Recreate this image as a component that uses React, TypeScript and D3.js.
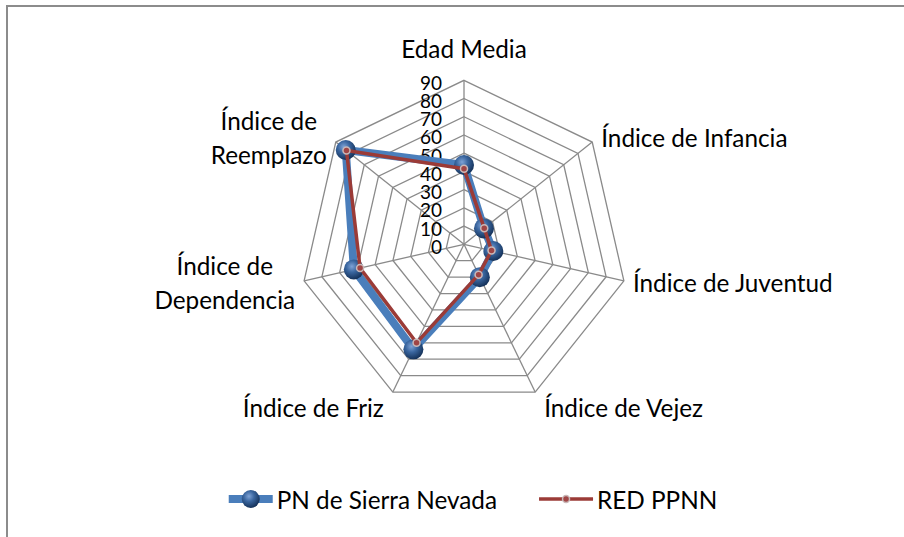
import React, { useEffect, useRef } from 'react';
import * as d3 from 'd3';

// categories clockwise from the top, "\n" splits a label over two lines
const categories = [
  'Edad Media',
  'Índice de Infancia',
  'Índice de Juventud',
  'Índice de Vejez',
  'Índice de Friz',
  'Índice de\nDependencia',
  'Índice de\nReemplazo',
];
const ticks = [0, 10, 20, 30, 40, 50, 60, 70, 80, 90];
const seriesNames = ['PN de Sierra Nevada', 'RED PPNN'];
const sierraNevada = [43.5, 14, 16.5, 20, 64, 62, 83];
const redPPNN = [41.5, 14.2, 15.5, 18.5, 60, 58.5, 82.5];

const W = 904;
const H = 537;
const FONT = 'Lato, Carlito, Calibri, sans-serif';

export default function App() {
  const ref = useRef<SVGSVGElement>(null);

  useEffect(() => {
    const svg = d3.select(ref.current);
    svg.selectAll('*').remove();

    const cx = 464;
    const cy = 244.3;
    const n = categories.length;
    const r = d3.scaleLinear().domain([0, 90]).range([0, 164]);
    const angle = (i: number) => (i * 2 * Math.PI) / n;
    const px = (i: number, v: number) => r(v) * Math.sin(angle(i));
    const py = (i: number, v: number) => -r(v) * Math.cos(angle(i));

    const defs = svg.append('defs');
    const grad = defs
      .append('radialGradient')
      .attr('id', 'ball')
      .attr('cx', '40%')
      .attr('cy', '35%')
      .attr('r', '65%');
    grad.append('stop').attr('offset', '0%').attr('stop-color', '#7fa3d6');
    grad.append('stop').attr('offset', '45%').attr('stop-color', '#3a669f');
    grad.append('stop').attr('offset', '100%').attr('stop-color', '#15325a');

    // chart border
    svg.append('rect')
      .attr('x', 7)
      .attr('y', 6)
      .attr('width', W + 20)
      .attr('height', H + 20)
      .attr('fill', 'white')
      .attr('stroke', '#8c8c8c')
      .attr('stroke-width', 2);

    const g = svg.append('g').attr('transform', `translate(${cx},${cy})`);

    // grid rings
    const ring = d3
      .lineRadial<number>()
      .angle((_, i) => angle(i))
      .curve(d3.curveLinearClosed);
    ticks.slice(1).forEach((t) => {
      g.append('path')
        .attr('d', ring.radius(() => r(t))(categories.map(() => t)))
        .attr('fill', 'none')
        .attr('stroke', '#8a8a8a')
        .attr('stroke-width', 1.3);
    });
    categories.forEach((_, i) => {
      g.append('line')
        .attr('x1', 0)
        .attr('y1', 0)
        .attr('x2', px(i, 90))
        .attr('y2', py(i, 90))
        .attr('stroke', '#8a8a8a')
        .attr('stroke-width', 1.3);
    });

    // tick labels along the top axis
    g.selectAll('.tick')
      .data(ticks)
      .enter()
      .append('text')
      .attr('x', -22)
      .attr('y', (d) => -r(d) + 2)
      .attr('text-anchor', 'end')
      .attr('dominant-baseline', 'central')
      .attr('font-family', FONT)
      .attr('font-size', 19)
      .attr('fill', '#000')
      .text((d) => d);

    // category labels
    categories.forEach((c, i) => {
      const a = angle(i);
      const s = Math.sin(a);
      const co = Math.cos(a);
      const vx = px(i, 90);
      const vy = py(i, 90);
      const lines = c.split('\n');
      const t = g.append('text')
        .attr('font-family', FONT)
        .attr('font-size', 24.3)
        .attr('fill', '#000')
        .attr('text-anchor', 'middle');
      lines.forEach((l, k) => {
        t.append('tspan').attr('x', 0).attr('y', k * 33.4).text(l);
      });
      const bb = (t.node() as SVGTextElement).getBBox();
      let ox: number;
      let oy: number;
      if (Math.abs(s) < 0.1) ox = vx;
      else if (s > 0) ox = vx + 9 + bb.width / 2;
      else ox = vx - 9 - bb.width / 2;
      if (co > 0.9) oy = vy - 17 - (bb.y + bb.height);
      else if (co < -0.8) oy = vy + 1 - bb.y;
      else oy = vy - 7 * co - (bb.y + bb.height / 2);
      t.attr('transform', `translate(${ox},${oy})`);
    });

    const radar = d3
      .lineRadial<number>()
      .angle((_, i) => angle(i))
      .radius((d) => r(d))
      .curve(d3.curveLinearClosed);

    // PN de Sierra Nevada
    g.append('path')
      .attr('d', radar(sierraNevada))
      .attr('fill', 'none')
      .attr('stroke', '#4a7ebb')
      .attr('stroke-width', 8)
      .attr('stroke-linejoin', 'round');
    g.selectAll('.ball')
      .data(sierraNevada)
      .enter()
      .append('circle')
      .attr('cx', (d, i) => px(i, d))
      .attr('cy', (d, i) => py(i, d))
      .attr('r', 10)
      .attr('fill', 'url(#ball)');

    // RED PPNN
    g.append('path')
      .attr('d', radar(redPPNN))
      .attr('fill', 'none')
      .attr('stroke', '#9b3b37')
      .attr('stroke-width', 3.5)
      .attr('stroke-linejoin', 'round');
    g.selectAll('.dot')
      .data(redPPNN)
      .enter()
      .append('circle')
      .attr('cx', (d, i) => px(i, d))
      .attr('cy', (d, i) => py(i, d))
      .attr('r', 3.5)
      .attr('fill', '#a04545')
      .attr('stroke', '#c9b8b8')
      .attr('stroke-width', 1.5);

    // legend
    const leg = svg.append('g');
    const items = seriesNames.map((name, k) => {
      const it = leg.append('g');
      const lineW = k === 0 ? 44 : 54;
      if (k === 0) {
        it.append('line')
          .attr('x1', 0).attr('x2', lineW).attr('y1', 0).attr('y2', 0)
          .attr('stroke', '#4a7ebb').attr('stroke-width', 8);
        it.append('circle').attr('cx', lineW / 2).attr('cy', 0).attr('r', 9).attr('fill', 'url(#ball)');
      } else {
        it.append('line')
          .attr('x1', 0).attr('x2', lineW).attr('y1', 0).attr('y2', 0)
          .attr('stroke', '#9b3b37').attr('stroke-width', 3.5);
        it.append('circle')
          .attr('cx', lineW / 2).attr('cy', 0).attr('r', 3.5)
          .attr('fill', '#a04545').attr('stroke', '#c9b8b8').attr('stroke-width', 1.5);
      }
      const tx = it.append('text')
        .attr('x', lineW + 4)
        .attr('y', 0)
        .attr('dominant-baseline', 'central')
        .attr('font-family', FONT)
        .attr('font-size', 24.3)
        .attr('fill', '#000')
        .text(name);
      const w = lineW + 4 + (tx.node() as SVGTextElement).getComputedTextLength();
      return { it, w };
    });
    const gap = 42;
    const total = d3.sum(items, (d) => d.w) + gap * (items.length - 1);
    let x0 = 473 - total / 2;
    items.forEach((d) => {
      d.it.attr('transform', `translate(${x0},499)`);
      x0 += d.w + gap;
    });
  }, []);

  return (
    <svg
      ref={ref}
      width={W}
      height={H}
      style={{ position: 'absolute', left: 0, top: 0, background: 'white' }}
    />
  );
}
